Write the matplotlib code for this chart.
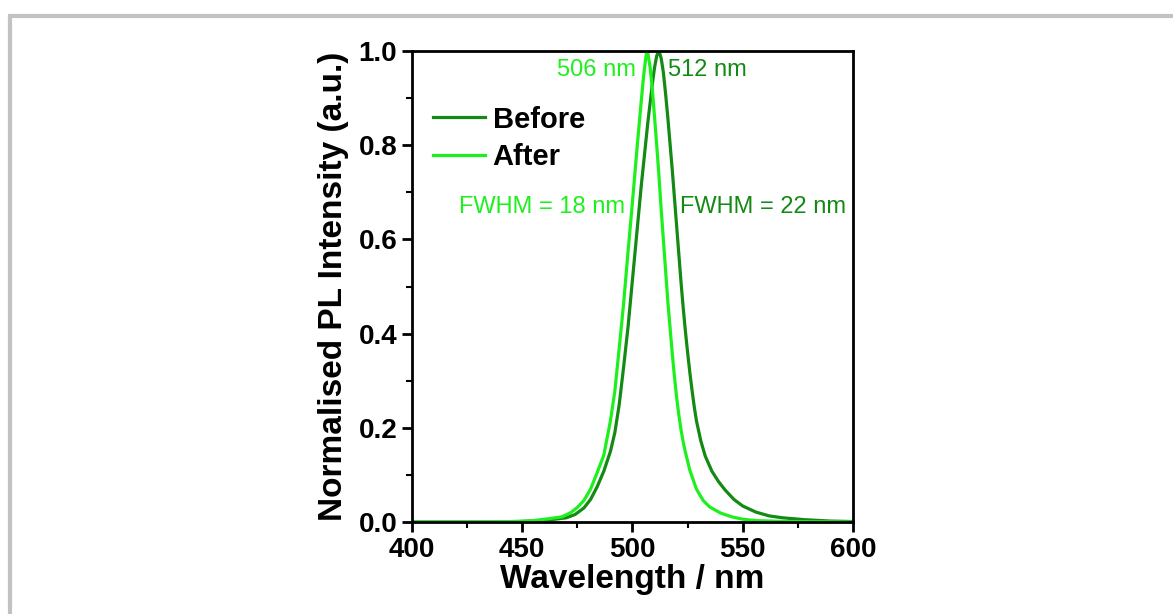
import matplotlib
matplotlib.use("Agg")
import matplotlib.pyplot as plt
from matplotlib.patches import Rectangle
from matplotlib.ticker import MultipleLocator

plt.rcParams['font.family'] = ['Liberation Sans', 'DejaVu Sans']

# PL spectra (wavelength in nm, normalised intensity)
wl_before = [400, 440, 450, 458, 465, 470, 474, 478, 481, 484, 487, 490, 492, 494,
             496, 498, 499, 500, 501, 502, 503, 504, 505, 506, 507, 508, 509, 510,
             511, 512, 513, 514, 515, 516, 517, 518, 519, 520, 521, 522, 523, 524,
             525, 526, 527, 528, 529, 531, 533, 536, 539, 542, 546, 550, 556, 562,
             568, 578, 590, 600]
pl_before = [0.0, 0.0, 0.001, 0.003, 0.006, 0.009, 0.016, 0.03, 0.048, 0.075, 0.108,
             0.15, 0.19, 0.25, 0.33, 0.415, 0.465, 0.515, 0.565, 0.615, 0.665, 0.715,
             0.76, 0.805, 0.85, 0.89, 0.93, 0.965, 0.99, 1.0, 0.985, 0.955, 0.91, 0.86,
             0.805, 0.75, 0.69, 0.63, 0.57, 0.51, 0.455, 0.405, 0.36, 0.318, 0.28,
             0.245, 0.215, 0.172, 0.14, 0.108, 0.086, 0.068, 0.048, 0.034, 0.021,
             0.013, 0.009, 0.005, 0.002, 0.001]

wl_after = [400, 430, 445, 455, 462, 468, 472, 475, 478, 481, 484, 487, 490, 492,
            494, 496, 498, 500, 502, 504, 505, 506, 506.5, 507, 508, 509, 510, 511,
            512, 513, 514, 515, 516, 517, 518, 519, 520, 521, 522, 523, 524, 526,
            529, 532, 535, 540, 545, 550, 556, 570, 600]
pl_after = [0.0, 0.0, 0.001, 0.003, 0.007, 0.011, 0.02, 0.031, 0.046, 0.07, 0.105,
            0.142, 0.215, 0.278, 0.37, 0.465, 0.575, 0.68, 0.79, 0.895, 0.945, 0.985,
            1.0, 0.995, 0.965, 0.92, 0.86, 0.8, 0.735, 0.665, 0.6, 0.535, 0.47, 0.415,
            0.36, 0.31, 0.265, 0.228, 0.196, 0.17, 0.148, 0.11, 0.07, 0.046, 0.032,
            0.019, 0.011, 0.006, 0.003, 0.001, 0.0]

dark_green = '#138a13'
light_green = '#1ef01e'

fig = plt.figure(figsize=(11.73, 6.14), dpi=100)
ax = fig.add_axes([0.3512, 0.1498, 0.376, 0.767])

ax.plot(wl_before, pl_before, color=dark_green, lw=2.3, label='Before')
ax.plot(wl_after, pl_after, color=light_green, lw=2.3, label='After')

ax.set_xlim(400, 600)
ax.set_ylim(0, 1.0)
ax.xaxis.set_major_locator(MultipleLocator(50))
ax.xaxis.set_minor_locator(MultipleLocator(25))
ax.yaxis.set_major_locator(MultipleLocator(0.2))
ax.yaxis.set_minor_locator(MultipleLocator(0.1))
ax.tick_params(which='major', direction='out', length=7, width=2, labelsize=20)
ax.tick_params(which='minor', direction='out', length=4, width=1.5)
for lab in ax.get_xticklabels() + ax.get_yticklabels():
    lab.set_fontweight('bold')
for sp in ax.spines.values():
    sp.set_linewidth(2)

ax.set_xlabel('Wavelength / nm', fontsize=24, fontweight='bold', labelpad=1)
ax.set_ylabel('Normalised PL Intensity (a.u.)', fontsize=24, fontweight='bold', labelpad=7)

ax.text(501.6, 0.96, '506 nm', color=light_green, fontsize=17, ha='right', va='center')
ax.text(516.1, 0.96, '512 nm', color=dark_green, fontsize=17, ha='left', va='center')
ax.text(496.6, 0.669, 'FWHM = 18 nm', color=light_green, fontsize=17, ha='right', va='center')
ax.text(521.5, 0.669, 'FWHM = 22 nm', color=dark_green, fontsize=17, ha='left', va='center')

leg = ax.legend(loc='upper left', bbox_to_anchor=(-0.012, 0.94), frameon=False,
                prop={'weight': 'bold', 'size': 21}, handlelength=1.8,
                handletextpad=0.25, labelspacing=0.33)

# grey frame around the panel
fig.patches.append(Rectangle((10 / 1173, -0.2), 1.3, 0.974 + 0.2,
                             transform=fig.transFigure, fill=False,
                             edgecolor='#c2c2c2', lw=3))

fig.savefig('out.png', dpi=100)
